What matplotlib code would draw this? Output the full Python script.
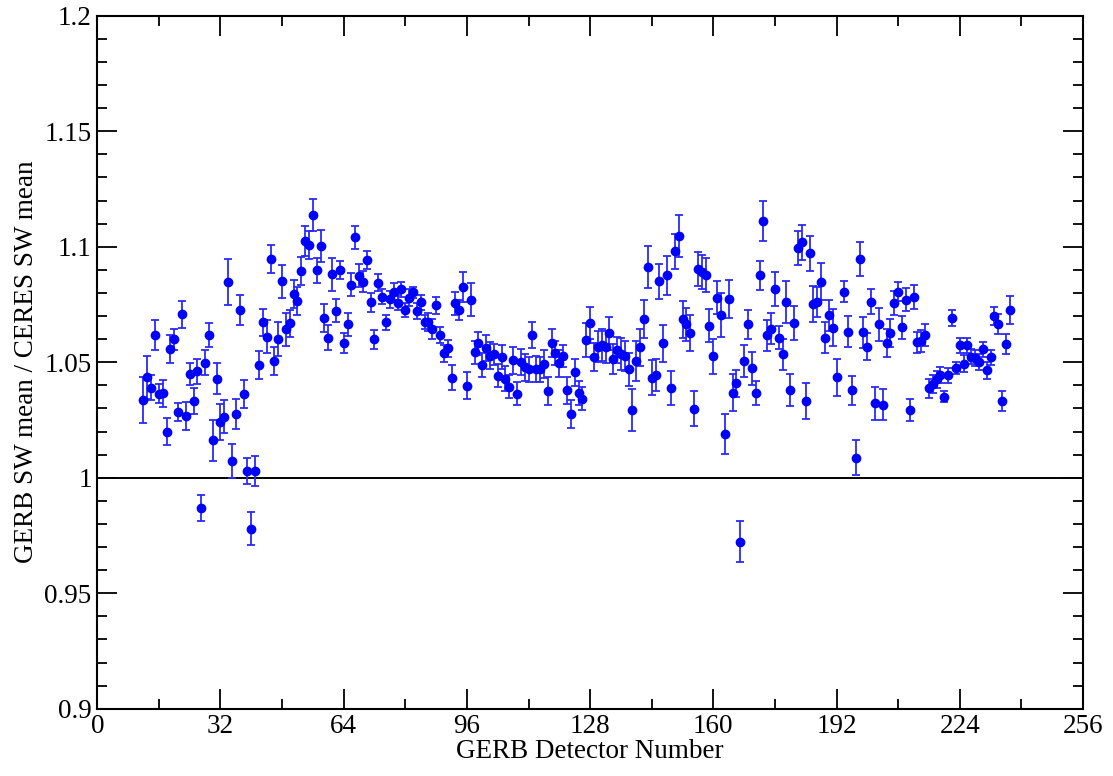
#!/usr/bin/env python3
"""GERB / CERES shortwave mean ratio per GERB detector, with error bars."""

import numpy as np
import matplotlib

matplotlib.use("Agg")
import matplotlib.pyplot as plt
from matplotlib.ticker import MultipleLocator, FuncFormatter

# detector 193 has no value
detectors = list(range(12, 193)) + list(range(194, 238))

ratio = [
    # 12-50
    1.0336, 1.0434, 1.039, 1.0618, 1.0364, 1.0365, 1.020, 1.0558, 1.060, 1.0284,
    1.0707, 1.0267, 1.045, 1.0332, 1.046, 0.987, 1.0498, 1.0618, 1.0162, 1.0429,
    1.0241, 1.0264, 1.0848, 1.0072, 1.0277, 1.0726, 1.0362, 1.0029, 0.978, 1.003,
    1.0488, 1.0672, 1.061, 1.0947, 1.0505, 1.060, 1.0851, 1.0642, 1.0668,
    # 51-99
    1.0795, 1.0766, 1.0895, 1.1026, 1.1007, 1.1137, 1.0898, 1.1004, 1.0693, 1.0606,
    1.088, 1.0722, 1.0899, 1.0583, 1.0664, 1.0835, 1.104, 1.0874, 1.0848, 1.0942,
    1.0759, 1.0599, 1.0844, 1.0784, 1.0672, 1.0772, 1.0805, 1.0758, 1.0815, 1.0726,
    1.078, 1.0802, 1.0722, 1.0759, 1.0675, 1.0675, 1.0644, 1.0746, 1.0618, 1.0538,
    1.056, 1.0433, 1.0755, 1.0726, 1.0827, 1.0398, 1.0771, 1.0543, 1.0582,
    # 100-149
    1.049, 1.0563, 1.0528, 1.0534, 1.0442, 1.0524, 1.0429, 1.0394, 1.0508, 1.0364,
    1.0502, 1.0478, 1.047, 1.0616, 1.047, 1.0469, 1.0492, 1.0375, 1.0583, 1.0538,
    1.0495, 1.0528, 1.0378, 1.0277, 1.0457, 1.0367, 1.0343, 1.0597, 1.0671, 1.0522,
    1.0568, 1.0574, 1.0566, 1.0625, 1.0514, 1.0553, 1.0535, 1.0527, 1.0469, 1.0293,
    1.0506, 1.0564, 1.0687, 1.0913, 1.0433, 1.0444, 1.0851, 1.0583, 1.0877, 1.039,
    # 150-192
    1.0981, 1.1046, 1.0687, 1.0664, 1.0625, 1.0299, 1.0902, 1.0889, 1.0877, 1.0659,
    1.0525, 1.0779, 1.0704, 1.019, 1.0774, 1.0368, 1.0408, 0.9724, 1.0505, 1.0664,
    1.0473, 1.0368, 1.0877, 1.1111, 1.0616, 1.0645, 1.0817, 1.0607, 1.0534, 1.076,
    1.038, 1.0671, 1.0994, 1.1019, 1.0332, 1.0971, 1.0752, 1.0762, 1.0848, 1.0607,
    1.0703, 1.0649, 1.0434,
    # 194-237
    1.0805, 1.0632, 1.0378, 1.0087, 1.0947, 1.0629, 1.0567, 1.0762, 1.0322, 1.0664,
    1.0317, 1.0582, 1.0625, 1.0758, 1.0805, 1.0652, 1.0771, 1.0294, 1.0782, 1.0586,
    1.0592, 1.0618, 1.0387, 1.0406, 1.0426, 1.0444, 1.0351, 1.0444, 1.0691, 1.0475,
    1.0573, 1.0494, 1.0574, 1.0524, 1.0517, 1.0502, 1.0556, 1.0465, 1.0521, 1.07,
    1.0664, 1.0332, 1.0579, 1.0726,
]

ratio_err = [
    # 12-50
    0.0101, 0.0092, 0.0055, 0.0065, 0.004, 0.006, 0.006, 0.006, 0.0045, 0.004,
    0.006, 0.006, 0.0048, 0.0055, 0.0054, 0.0056, 0.0055, 0.005, 0.0088, 0.0068,
    0.0078, 0.0072, 0.010, 0.0075, 0.0066, 0.0066, 0.006, 0.0056, 0.0072, 0.0065,
    0.006, 0.006, 0.0072, 0.006, 0.006, 0.0072, 0.0072, 0.007, 0.006,
    # 51-99
    0.006, 0.006, 0.006, 0.0065, 0.006, 0.007, 0.0055, 0.007, 0.006, 0.0055,
    0.007, 0.005, 0.004, 0.0045, 0.005, 0.005, 0.005, 0.005, 0.0046, 0.004,
    0.004, 0.004, 0.0036, 0.0033, 0.0033, 0.0036, 0.0036, 0.0033, 0.0034, 0.003,
    0.0035, 0.0025, 0.0034, 0.0033, 0.003, 0.0038, 0.0045, 0.0038, 0.0036, 0.0038,
    0.0036, 0.0054, 0.005, 0.0043, 0.0065, 0.0058, 0.0072, 0.005, 0.005,
    # 100-149
    0.0052, 0.0056, 0.0058, 0.0047, 0.005, 0.0052, 0.0055, 0.005, 0.006, 0.005,
    0.0056, 0.0058, 0.0054, 0.0056, 0.0056, 0.0054, 0.006, 0.006, 0.006, 0.0052,
    0.006, 0.0047, 0.0058, 0.006, 0.0058, 0.005, 0.005, 0.0074, 0.007, 0.006,
    0.0068, 0.0068, 0.007, 0.0072, 0.0067, 0.0056, 0.007, 0.0065, 0.0072, 0.009,
    0.0087, 0.008, 0.0083, 0.0092, 0.0076, 0.0068, 0.0076, 0.008, 0.0084, 0.0074,
    # 150-192
    0.0076, 0.0092, 0.008, 0.0072, 0.0078, 0.0075, 0.0074, 0.0074, 0.0072, 0.007,
    0.0076, 0.0072, 0.0096, 0.0087, 0.0083, 0.008, 0.006, 0.0088, 0.0068, 0.0063,
    0.007, 0.0051, 0.0063, 0.0085, 0.0067, 0.0068, 0.0074, 0.0048, 0.0067, 0.009,
    0.0068, 0.0074, 0.0074, 0.0076, 0.0077, 0.0076, 0.008, 0.0065, 0.008, 0.0068,
    0.0068, 0.008, 0.0079,
    # 194-237
    0.0045, 0.0066, 0.0061, 0.0075, 0.0074, 0.0066, 0.0058, 0.0055, 0.0072, 0.007,
    0.0067, 0.0061, 0.0061, 0.0052, 0.0042, 0.005, 0.005, 0.0049, 0.0052, 0.0047,
    0.0048, 0.0046, 0.004, 0.004, 0.0038, 0.0036, 0.0025, 0.0032, 0.0035, 0.0027,
    0.0034, 0.0037, 0.0032, 0.0032, 0.0035, 0.0034, 0.0032, 0.0037, 0.0032, 0.0038,
    0.0043, 0.0042, 0.0045, 0.0062,
]

x_ticks = [0, 32, 64, 96, 128, 160, 192, 224, 256]

plt.rcParams["font.family"] = ["Liberation Serif", "DejaVu Serif"]

fig = plt.figure(figsize=(11.13, 7.76), dpi=100)
ax = fig.add_axes([0.0874, 0.0866, 0.8856, 0.8932])

ax.axhline(1.0, color="black", lw=1.4, zorder=1)
ax.errorbar(
    detectors,
    ratio,
    yerr=ratio_err,
    fmt="o",
    color="#0000ff",
    ecolor="#2a2aff",
    markersize=6,
    elinewidth=1.3,
    capsize=2.8,
    capthick=1.3,
    zorder=3,
)

ax.set_xlim(0, 256)
ax.set_ylim(0.9, 1.2)
ax.set_xticks(x_ticks)
ax.xaxis.set_minor_locator(MultipleLocator(16))
ax.yaxis.set_major_locator(MultipleLocator(0.05))
ax.yaxis.set_minor_locator(MultipleLocator(0.01))
ax.yaxis.set_major_formatter(FuncFormatter(lambda v, _: f"{v:g}"))

ax.tick_params(which="both", direction="in", top=True, right=True,
               width=1.3, labelsize=19.5, pad=4)
ax.tick_params(which="major", length=14.4)
ax.tick_params(which="minor", length=7.2)
for spine in ax.spines.values():
    spine.set_linewidth(1.5)

ax.set_xlabel("GERB Detector Number", fontsize=19.5, labelpad=0)
ax.set_ylabel("GERB SW mean / CERES SW mean", fontsize=19.5, labelpad=4)

fig.savefig("out.png", dpi=100)
